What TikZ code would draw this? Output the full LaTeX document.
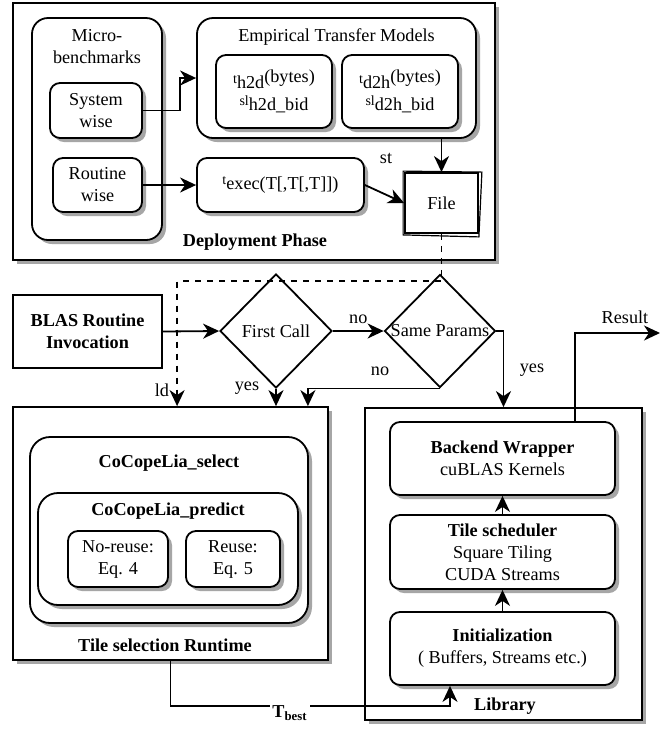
\documentclass[tikz,border=0pt]{standalone}
\usepackage{fontspec}
\setmainfont{Liberation Serif}
\usetikzlibrary{arrows.meta,shapes.geometric,shadows,calc}

\newcommand\fsz{\fontsize{9.1}{11}\selectfont}
\newcommand\lsm[1]{\raisebox{2.5pt}{\scriptsize #1}}

\begin{document}
\begin{tikzpicture}[x=0.5pt, y=-0.5pt, line width=0.9pt,
  >={Stealth[length=8pt, width=7.5pt, inset=2.5pt]},
  every node/.style={align=center, font=\fsz},
  bold/.style={font=\fsz\bfseries},
  sh/.style={drop shadow={shadow xshift=2pt, shadow yshift=-2pt, fill=black!35, opacity=1}},
  box/.style={draw, fill=white, sh, inner sep=0pt},
  rbox/.style={box, rounded corners=5pt},
  decision/.style={draw, diamond, fill=white, inner sep=0pt}]
\def \u {0.5pt}
\useasboundingbox (0,0) rectangle (670,730);

% deployment phase
\node[box, minimum width=482*\u, minimum height=257*\u] at (254,131.5) (deploy) {};
\node[bold] at (255,242) (deploylbl) {Deployment Phase};
\node[rbox, rounded corners=8pt, minimum width=130*\u, minimum height=222*\u] at (97,129) (micro) {};
\node at (97,47) (microlbl) {Micro-\\benchmarks};
\node[rbox, minimum width=92*\u, minimum height=55*\u] at (96,110.5) (syswise) {System\\wise};
\node[rbox, minimum width=89*\u, minimum height=54*\u] at (97.5,185) (routwise) {Routine\\wise};
\node[rbox, rounded corners=8pt, minimum width=279*\u, minimum height=120*\u] at (336.5,78) (etm) {};
\node at (336.5,37) (etmlbl) {Empirical Transfer Models};
\node[rbox, minimum width=116*\u, minimum height=73*\u] at (274,91.5) (h2d) {\lsm{t}h2d\raisebox{3pt}{(bytes)}\\\lsm{sl}h2d\_bid};
\node[rbox, minimum width=116*\u, minimum height=73*\u] at (400,91.5) (d2h) {\lsm{t}d2h\raisebox{3pt}{(bytes)}\\\lsm{sl}d2h\_bid};
\node[rbox, minimum width=167*\u, minimum height=54*\u] at (280.5,185) (texec) {\lsm{t}exec(T[,T[,T]])};
\node[draw, fill=white, minimum width=73*\u, minimum height=60*\u] at (441.5,203) (file) {File};
\draw[line width=0.6pt] ($(file.north west)+(-1,-1)$) -- ($(file.north east)+(3,0)$) -- ($(file.south east)+(0,3)$) -- ($(file.south west)+(-1,1)$) -- cycle;

\draw[->] (syswise.east) -- ++(37,0) |- (etm.west);
\draw[->] (routwise.east) -- (texec.west);
\draw[->] (file.north |- etm.south) -- (file.north);
\node at (386,158) (stlbl) {st};
\draw[->] (texec.east) -- (file.west);

% invocation and decisions
\node[draw, fill=white, minimum width=149*\u, minimum height=73*\u, bold] at (87.5,331.5) (blas) {BLAS Routine\\Invocation};
\node[decision, minimum width=112*\u, minimum height=114*\u, label=center:First Call] at (276,331) (first) {};
\node[decision, minimum width=111*\u, minimum height=113*\u, label=center:Same Params] at (440,331) (same) {};

% tile selection runtime
\node[box, minimum width=315*\u, minimum height=253*\u] at (170.5,533.5) (tilesel) {};
\node[bold] at (165,645) (tilesellbl) {Tile selection Runtime};
\node[rbox, rounded corners=10pt, minimum width=278*\u, minimum height=186*\u] at (169,530) (select) {};
\node[bold] at (169,463) (selectlbl) {CoCopeLia\_select};
\node[rbox, rounded corners=10pt, minimum width=260*\u, minimum height=112*\u] at (168,549) (predict) {};
\node[bold] at (168,511) (predictlbl) {CoCopeLia\_predict};
\node[rbox, minimum width=100*\u, minimum height=56*\u] at (118,559) (noreuse) {No-reuse:\\Eq. 4};
\node[rbox, minimum width=94*\u, minimum height=56*\u] at (233,559) (reuse) {Reuse:\\Eq. 5};

% library
\node[box, minimum width=277*\u, minimum height=312*\u] at (503.5,564) (library) {};
\node[bold] at (505,706) (librarylbl) {Library};
\node[rbox, minimum width=225*\u, minimum height=73*\u] at (502.5,458.5) (backend) {\textbf{Backend Wrapper}\\cuBLAS Kernels};
\node[rbox, minimum width=225*\u, minimum height=74*\u] at (502.5,552) (tilesched) {\textbf{Tile scheduler}\\Square Tiling\\CUDA Streams};
\node[rbox, minimum width=225*\u, minimum height=73*\u] at (502.5,648.5) (init) {\textbf{Initialization}\\( Buffers, Streams etc.)};

% flow
\draw[dashed, ->] (file.south) -- ++(0,47) -| ($(tilesel.north west)+(165,0)$);
\node at (162,390) (ldlbl) {ld};
\draw[->] (blas.east) -- (first.west);
\draw[->] (first.east) -- node[above] {no} (same.west);
\draw[->] (first.south) -- (first.south |- tilesel.north);
\node at (247,388) (yes1) {yes};
\draw[->] (same.south) -| ($(tilesel.north east)+(-21,0)$);
\node at (380,371) (no2) {no};
\draw[->] (same.east) -| (library.north);
\node at (532,370) (yes2) {yes};
\coordinate (result) at (660,333);
\draw[->] ($(backend.north)+(72.5,0)$) |- (result);
\node at (625,317) (resultlbl) {Result};
\draw[->] (tilesched.north) -- (backend.south);
\draw[->] (init.north) -- (tilesched.south);
\draw[->] (tilesel.south) -- ++(0,45) -| ($(init.south)+(-52.5,0)$);
\node[bold, fill=white, inner sep=1pt] at (290,713) (tbest) {T\textsubscript{best}};

\end{tikzpicture}
\end{document}
